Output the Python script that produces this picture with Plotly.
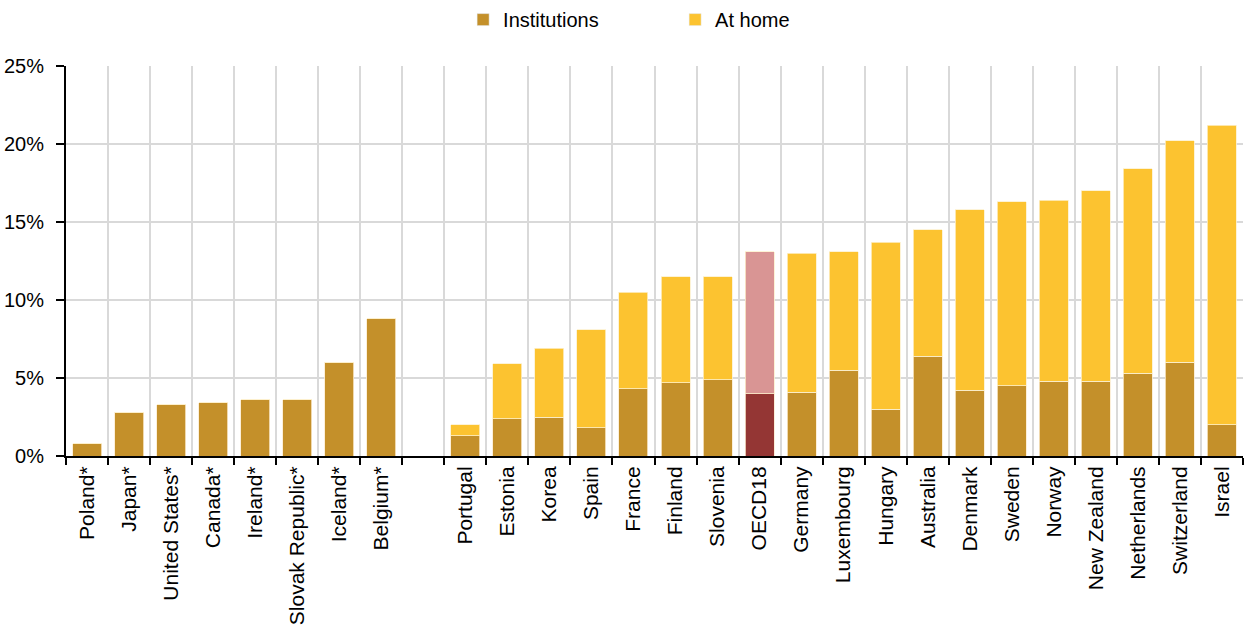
import plotly.graph_objects as go

countries = [
    "Poland*", "Japan*", "United States*", "Canada*", "Ireland*",
    "Slovak Republic*", "Iceland*", "Belgium*", " ",
    "Portugal", "Estonia", "Korea", "Spain", "France", "Finland", "Slovenia",
    "OECD18", "Germany", "Luxembourg", "Hungary", "Australia", "Denmark",
    "Sweden", "Norway", "New Zealand", "Netherlands", "Switzerland", "Israel",
]
# share of population (%)
institutions = [
    0.8, 2.8, 3.3, 3.4, 3.6, 3.6, 6.0, 8.8, None,
    1.3, 2.4, 2.5, 1.8, 4.3, 4.7, 4.9, 4.0, 4.1, 5.5, 3.0, 6.4, 4.2,
    4.5, 4.8, 4.8, 5.3, 6.0, 2.0,
]
at_home = [
    0, 0, 0, 0, 0, 0, 0, 0, None,
    0.7, 3.5, 4.4, 6.3, 6.2, 6.8, 6.6, 9.1, 8.9, 7.6, 10.7, 8.1, 11.6,
    11.8, 11.6, 12.2, 13.1, 14.2, 19.2,
]

INST = "#C4902A"
HOME = "#FCC330"
inst_colors = ["#943634" if c == "OECD18" else INST for c in countries]
home_colors = ["#D99594" if c == "OECD18" else HOME for c in countries]

FONT = "Liberation Sans, Arial, sans-serif"

fig = go.Figure()
fig.add_trace(go.Bar(
    x=countries, y=institutions, name="Institutions", showlegend=False,
    marker=dict(color=inst_colors, line=dict(color="#FBEBD0", width=0.8)),
))
fig.add_trace(go.Bar(
    x=countries, y=at_home, name="At home", showlegend=False,
    marker=dict(color=home_colors, line=dict(color="#FDF0CC", width=0.8)),
))
# legend swatches in the plain colours
fig.add_trace(go.Bar(x=[None], y=[None], name="Institutions", marker_color=INST))
fig.add_trace(go.Bar(x=[None], y=[None], name="At home", marker_color=HOME))

fig.update_layout(
    barmode="stack",
    bargap=0.31,
    width=1244, height=626,
    margin=dict(l=66, r=1, t=65, b=170),
    paper_bgcolor="white", plot_bgcolor="white",
    font=dict(family=FONT, size=21, color="black"),
    legend=dict(
        orientation="h", traceorder="normal",
        x=0.3374, xanchor="left", y=1.166, yanchor="top",
        entrywidth=167, entrywidthmode="pixels", font=dict(size=20),
        itemwidth=30,
    ),
    xaxis=dict(
        type="category", tickson="boundaries", tickangle=-90, automargin=False,
        showgrid=True, gridcolor="#D9D9D9", gridwidth=2,
        showline=True, linecolor="black", linewidth=2,
        ticks="outside", ticklen=7, tickcolor="black", tickwidth=2,
    ),
    yaxis=dict(
        range=[0, 25], dtick=5, ticksuffix="%", automargin=False,
        tickfont=dict(size=20),
        showgrid=True, gridcolor="#D9D9D9", gridwidth=2,
        showline=True, linecolor="black", linewidth=2,
        ticks="outside", ticklen=8, tickcolor="black", tickwidth=2,
        ticklabelstandoff=8, zeroline=False,
    ),
)

# page without the default 8px body margin
fig.write_html(
    "out.html",
    config={"displayModeBar": False},
    post_script="document.body.style.margin='0';",
)
